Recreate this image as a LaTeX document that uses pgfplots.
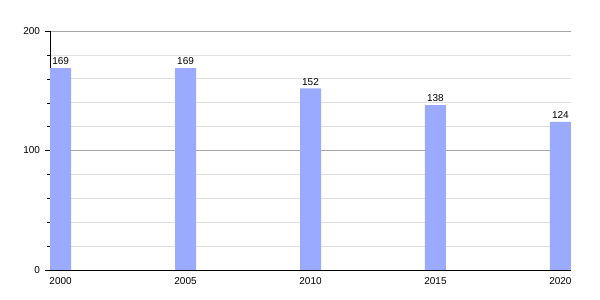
\documentclass[border=0pt]{standalone}
\usepackage{pgfplots}
\pgfplotsset{compat=1.18}
\usepackage{fontspec}
\setmainfont{Liberation Sans}
\definecolor{barc}{HTML}{99AAFF}
\begin{document}
\begin{tikzpicture}[x=1pt,y=1pt]
\path (0,0) rectangle (600,300);
\begin{axis}[at={(50pt,30pt)}, anchor=south west, scale only axis,
  width=521pt, height=239pt,
  xmin=-0.085, xmax=4.085, ymin=0, ymax=200,
  xtick={0,1,2,3,4}, xticklabels={2000,2005,2010,2015,2020},
  ytick={0,100,200}, minor ytick={20,40,60,80,120,140,160,180},
  axis x line*=bottom, axis y line*=left,
  ymajorgrids, yminorgrids,
  major grid style={color=black!35, line width=0.6pt},
  minor grid style={color=black!12, line width=0.6pt},
  tick align=outside, major tick length=5pt, minor tick length=3pt,
  xtick style={draw=none},
  ytick style={black},
  ybar, bar width=21pt, bar shift=0pt,
  nodes near coords,
  nodes near coords style={font=\fontsize{10}{11}\selectfont, inner sep=3pt, black},
  tick label style={font=\fontsize{10}{11}\selectfont},
  yticklabel style={xshift=-1.5pt},
  xticklabel style={yshift=1pt},
  /pgf/number format/assume math mode=true,
  axis line style={black, line width=0.8pt},
]
\addplot[fill=barc, draw=none] coordinates {(0,169) (1,169) (2,152) (3,138) (4,124)};
\end{axis}
\end{tikzpicture}
\end{document}
